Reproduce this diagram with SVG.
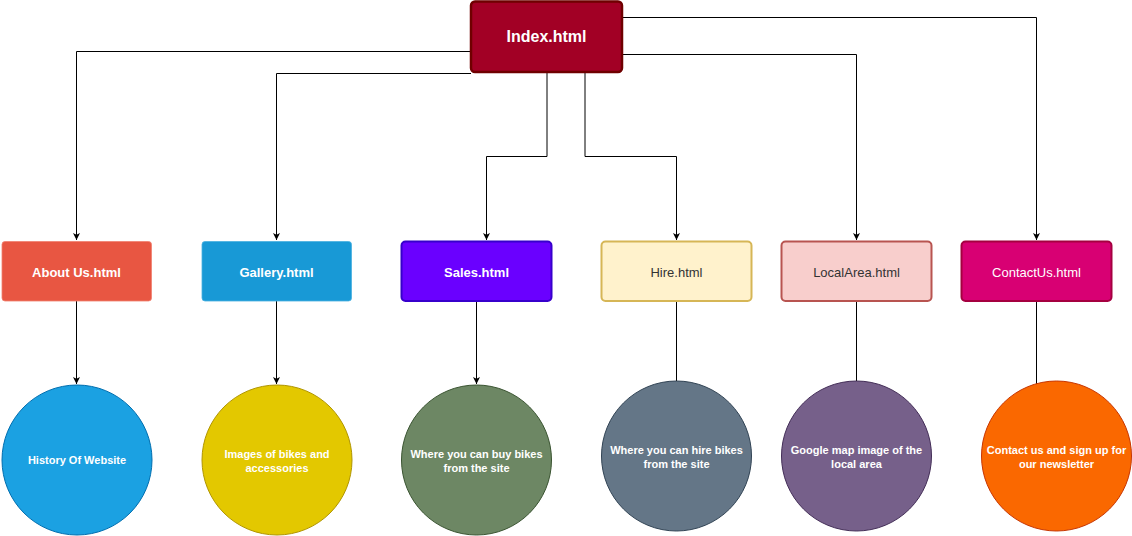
<svg xmlns="http://www.w3.org/2000/svg" width="1132" height="536" viewBox="0 0 1132 536">
<style>
.ln{fill:none;stroke:#000;stroke-width:1}
.t{font-family:"Liberation Sans",Arial,Helvetica,sans-serif;text-anchor:middle}
.b13{font-size:13px;font-weight:bold;fill:#fff}
.r13{font-size:13px;fill:#fff}
.c11{font-size:11px;font-weight:bold;fill:#fff}
</style>
<defs>
<marker id="ah" viewBox="0 0 10 10" refX="10" refY="5" markerWidth="7" markerHeight="7" orient="auto" markerUnits="userSpaceOnUse">
<path d="M0,0 L10,5 L0,10 L2.5,5 Z" fill="#000"/>
</marker>
</defs>
<rect width="1132" height="536" fill="#fff"/>
<g id="connectors">
<path class="ln" d="M471,51.5 H76.5 V240" marker-end="url(#ah)"/>
<path class="ln" d="M471,73.5 H276.5 V240" marker-end="url(#ah)"/>
<path class="ln" d="M547,72 V156.5 H486.5 V240" marker-end="url(#ah)"/>
<path class="ln" d="M585,72 V156.5 H676.5 V240" marker-end="url(#ah)"/>
<path class="ln" d="M622,54.5 H856.5 V240" marker-end="url(#ah)"/>
<path class="ln" d="M622,17.5 H1036.5 V240" marker-end="url(#ah)"/>
<path class="ln" d="M76.5,301 V384" marker-end="url(#ah)"/>
<path class="ln" d="M276.5,301 V384" marker-end="url(#ah)"/>
<path class="ln" d="M476.5,301 V384" marker-end="url(#ah)"/>
<path class="ln" d="M676.5,301 V382"/>
<path class="ln" d="M856.5,301 V382"/>
<path class="ln" d="M1036.5,301 V384"/>
</g>
<g id="index">
<rect x="471" y="1.5" width="151" height="70.5" rx="4" fill="#a20025" stroke="#6f0000" stroke-width="2.5"/>
<text class="t" x="546.5" y="42" font-size="16" font-weight="bold" fill="#fff">Index.html</text>
</g>
<g id="about">
<rect x="2" y="241.5" width="149.5" height="59.5" rx="3" fill="#e85642" stroke="#f08070" stroke-width="0.8"/>
<text class="t b13" x="76.5" y="277">About Us.html</text>
</g>
<g id="gallery">
<rect x="202" y="241.5" width="149.5" height="59.5" rx="3" fill="#1899d6" stroke="#4ab0e0" stroke-width="0.8"/>
<text class="t b13" x="276.5" y="277">Gallery.html</text>
</g>
<g id="sales">
<rect x="401.5" y="241.5" width="150" height="59.5" rx="4" fill="#6a00ff" stroke="#3700cc" stroke-width="2"/>
<text class="t b13" x="476.5" y="277">Sales.html</text>
</g>
<g id="hire">
<rect x="601.5" y="241.5" width="150" height="59.5" rx="4" fill="#fff2cc" stroke="#d6b656" stroke-width="2"/>
<text class="t" x="676.5" y="277" font-size="13" fill="#333">Hire.html</text>
</g>
<g id="localarea">
<rect x="781.5" y="241.5" width="150" height="59.5" rx="4" fill="#f8cecc" stroke="#b85450" stroke-width="2"/>
<text class="t" x="856.5" y="277" font-size="13" fill="#333">LocalArea.html</text>
</g>
<g id="contactus">
<rect x="961.5" y="241.5" width="150" height="59.5" rx="4" fill="#d80073" stroke="#a50040" stroke-width="2"/>
<text class="t r13" x="1036.5" y="277">ContactUs.html</text>
</g>
<g id="history">
<circle cx="77" cy="460" r="75" fill="#1ba1e2" stroke="#006eaf" stroke-width="1"/>
<text class="t c11" x="77" y="464">History Of Website</text>
</g>
<g id="images">
<circle cx="277" cy="460" r="75" fill="#e3c800" stroke="#b09500" stroke-width="1"/>
<text class="t c11" x="277" y="457.5">Images of bikes and</text>
<text class="t c11" x="277" y="471.5">accessories</text>
</g>
<g id="buy">
<circle cx="476.5" cy="460" r="75" fill="#6d8764" stroke="#3a5431" stroke-width="1"/>
<text class="t c11" x="476.5" y="457.5">Where you can buy bikes</text>
<text class="t c11" x="476.5" y="471.5">from the site</text>
</g>
<g id="hirebikes">
<circle cx="676.5" cy="456" r="75" fill="#647687" stroke="#314354" stroke-width="1"/>
<text class="t c11" x="676.5" y="453.5">Where you can hire bikes</text>
<text class="t c11" x="676.5" y="467.5">from the site</text>
</g>
<g id="map">
<circle cx="856.5" cy="456" r="75" fill="#76608a" stroke="#432d57" stroke-width="1"/>
<text class="t c11" x="856.5" y="453.5">Google map image of the</text>
<text class="t c11" x="856.5" y="467.5">local area</text>
</g>
<g id="newsletter">
<circle cx="1056.5" cy="456" r="75" fill="#fa6800" stroke="#c73500" stroke-width="1"/>
<text class="t c11" x="1056.5" y="453.5">Contact us and sign up for</text>
<text class="t c11" x="1056.5" y="467.5">our newsletter</text>
</g>
</svg>
